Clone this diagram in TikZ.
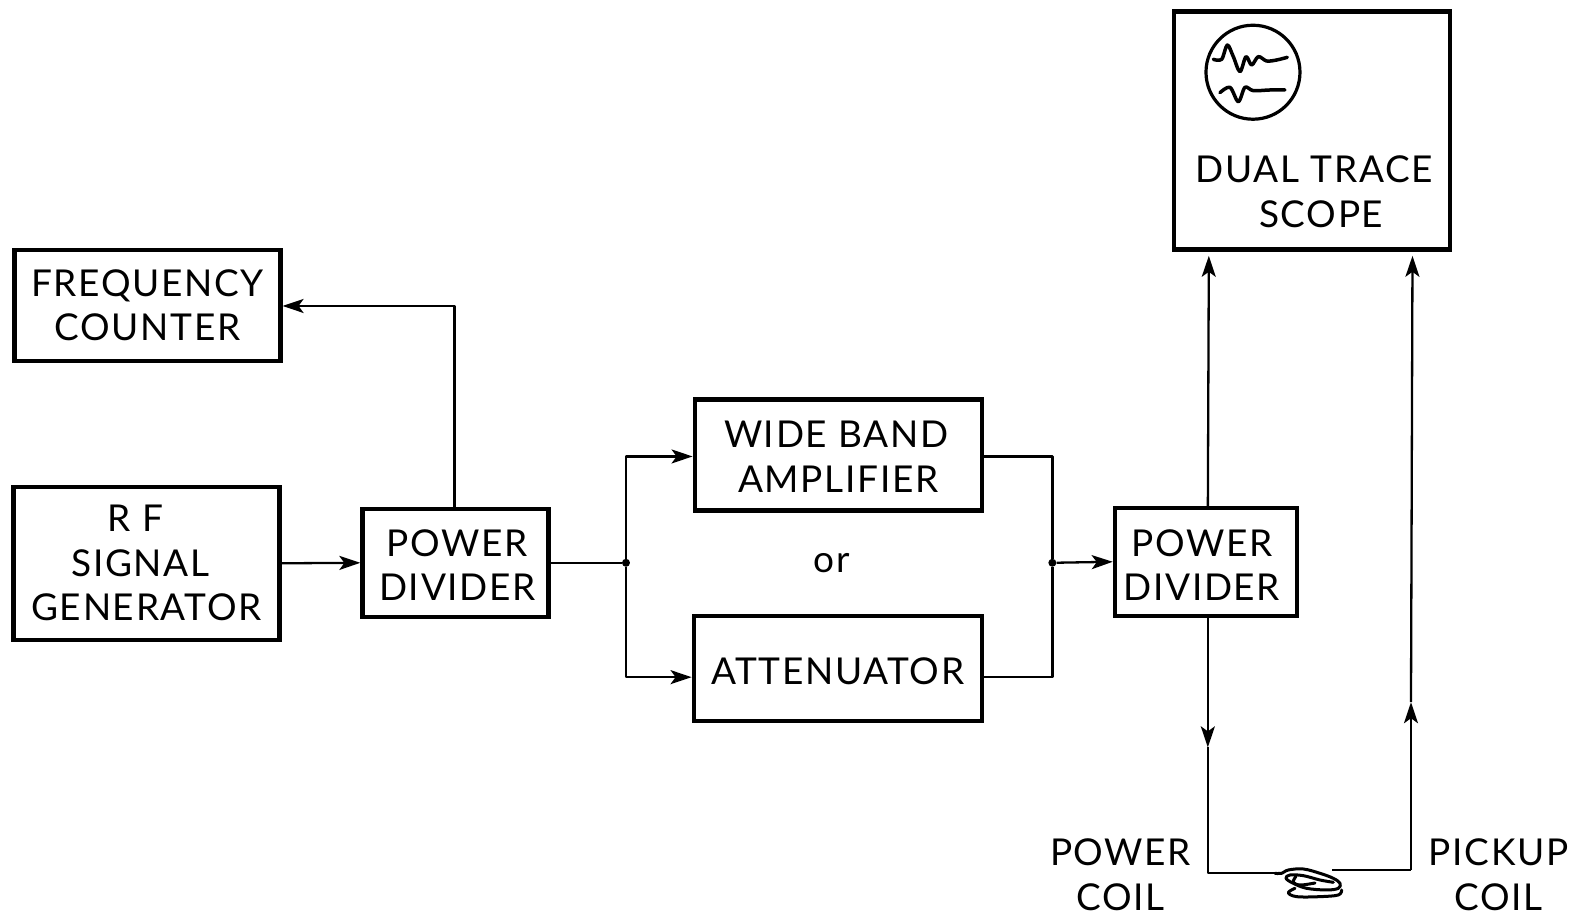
\documentclass[tikz,border=0pt]{standalone}
\usepackage{fontspec}
\setmainfont{Lato}[LetterSpace=4.5]
\usetikzlibrary{arrows.meta}
\newcommand\tx[2][0]{\raisebox{-#1pt}[\height][\depth]{\begin{tabular}{@{}c@{}}#2\end{tabular}}}
\tikzset{
  blk/.style={draw=black,line width=4.2pt,fill=none,inner sep=0pt,align=center,font=\fontsize{37}{44.5}\selectfont},
  lab/.style={inner sep=0pt,align=center,font=\fontsize{37}{44.5}\selectfont},
  wire/.style={draw=black,line width=2.3pt,line join=round},
  arr/.style={wire,-{Stealth[length=21pt,width=14pt,inset=5pt]}},
  dotj/.style={circle,fill=black,inner sep=0pt,minimum size=8pt},
  ink/.style={draw=black,line width=3pt,line cap=round,line join=round},
  trace/.style={draw=black,line width=3.5pt,line cap=round,line join=round},
}
\begin{document}
\begin{tikzpicture}[x=1.0032pt,y=-1.0032pt]
\useasboundingbox (0,0) rectangle (1568,913);
% blocks
\node[blk,minimum width=266pt,minimum height=111pt] (fc) at (147,304.5) {\tx[4]{FREQUENCY\\COUNTER}};
\node[blk,minimum width=266pt,minimum height=153pt] (rf) at (146,561.5) {\tx[4]{\hspace*{-22pt}R F\\\hspace*{-12pt}SIGNAL\\GENERATOR}};
\node[blk,minimum width=186pt,minimum height=108pt] (pa) at (454,561) {\hspace*{4pt}\tx[7]{POWER\\DIVIDER}};
\node[blk,minimum width=287pt,minimum height=111pt] (wb) at (835.5,453.5) {\tx[6]{\hspace*{-4pt}WIDE BAND\\AMPLIFIER}};
\node[blk,minimum width=288pt,minimum height=105pt] (at) at (835,666.5) {\tx[7]{ATTENUATOR}};
\node[blk,minimum width=182pt,minimum height=108pt] (pb) at (1202,560) {\hspace*{-8pt}\tx[8]{POWER\\DIVIDER}};
\node[blk,minimum width=276pt,minimum height=238pt] (sc) at (1308,130) {};
\node[lab] (sct) at (1310,191) {DUAL TRACE\\\hspace*{14pt}SCOPE};
\node[lab] (ort) at (829,561) {or};
\node[lab] (pwc) at (1117,872) {POWER\\COIL};
\node[lab] (pkc) at (1494,872) {PICKUP\\COIL};
% junctions and bends
\node[dotj] (ja) at (624,561) {};
\node[dotj] (jb) at (1049,561) {};
\coordinate (ua) at (453,305);
\coordinate (ta) at (624,455);
\coordinate (tb) at (624,675);
\coordinate (ub) at (1049,455);
\coordinate (vb) at (1049,675);
\coordinate (pu) at (1204,507);
\coordinate (pd) at (1204,614);
\coordinate (pm) at (1204,745);
\coordinate (pl) at (1204,870);
\coordinate (cl) at (1275,870);
\coordinate (cr) at (1328,867);
\coordinate (qb) at (1406.5,867);
\coordinate (qm) at (1406.5,700);
\coordinate (qt) at (1408,255);
\coordinate (su) at (1205,255);
% connectors
\draw[arr] (rf.east) -- (pa.west);
\draw[arr] (pa.north -| ua) -- (ua) -- (ua -| fc.east);
\draw[wire] (pa.east) -- (ja);
\draw[arr] (ja) -- (ta) -- (ta -| wb.west);
\draw[arr] (ja) -- (tb) -- (tb -| at.west);
\draw[wire] (ub -| wb.east) -- (ub) -- (jb);
\draw[wire] (vb -| at.east) -- (vb) -- (jb);
\draw[arr] (jb) -- (pb.west);
\draw[arr] (pu) -- (su);
\draw[arr] (pd) -- (pm);
\draw[wire] (pm) -- (pl) -- (cl);
\draw[wire] (cr) -- (qb);
\draw[arr] (qb) -- (qm);
\draw[arr] (qm) -- (qt);
% scope screen
\node[circle,draw=black,line width=3.2pt,minimum size=94pt,inner sep=0pt] (scr) at (1249,72) {};
\begin{scope}[shift={(1170pt,0pt)},x=0.3333pt,y=-0.3333pt]
\draw[trace] plot[smooth,tension=0.55] coordinates {(130,178)(155,178)(172,135)(190,170)(210,215)(228,170)(245,195)(265,170)(290,183)(320,180)(352,172)};
\draw[trace] plot[smooth,tension=0.55] coordinates {(150,278)(180,262)(205,305)(225,262)(250,272)(300,270)(345,270)};
\end{scope}
% coil
\begin{scope}[shift={(1270pt,-855pt)},x=0.3333pt,y=-0.3333pt]
\draw[ink] plot[smooth,tension=0.6] coordinates {(15,55)(35,55)(55,45)(100,42)(150,55)(190,70)(210,85)(205,100)(170,105)(110,100)(70,85)(48,70)(60,60)(100,62)(150,75)(190,82)};
\draw[ink] plot[smooth,tension=0.6] coordinates {(75,100)(55,113)(80,125)(150,125)(205,120)(215,105)};
\draw[ink] plot[smooth,tension=0.6] coordinates {(78,64)(70,82)(92,90)(135,84)};
\end{scope}
\end{tikzpicture}
\end{document}
